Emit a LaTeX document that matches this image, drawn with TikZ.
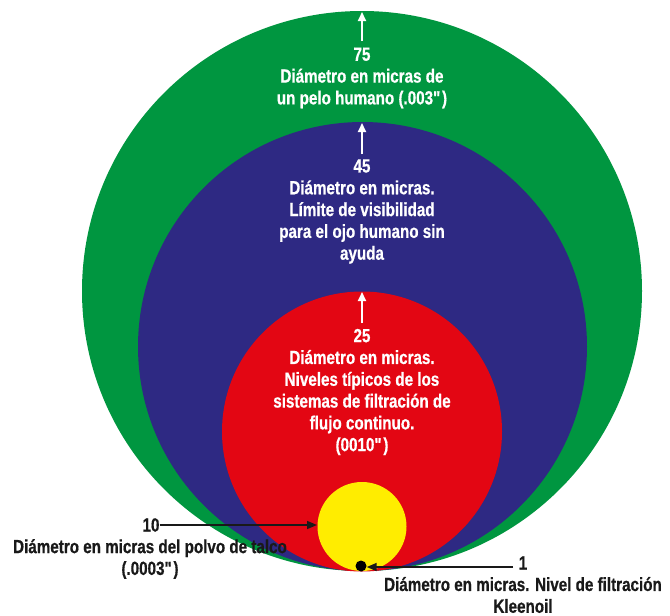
\documentclass[tikz,border=0pt]{standalone}
\usepackage{fontspec}
\setmainfont{Liberation Sans}[FakeStretch=0.8,FakeBold=0.6]
\usetikzlibrary{arrows.meta}
\definecolor{cgreen}{RGB}{0,150,64}
\definecolor{cblue}{RGB}{46,41,131}
\definecolor{cred}{RGB}{227,6,19}
\definecolor{cyellow}{RGB}{255,237,0}
\tikzset{
  lbl/.style={font=\fontsize{19}{21.8}\selectfont\bfseries, align=center, inner sep=0pt},
  wlbl/.style={lbl, text=white},
  klbl/.style={lbl, text=black!90},
  warrow/.style={draw=white, line width=2pt, -{Triangle[length=9pt,width=8pt]}},
  karrow/.style={draw=black!90, line width=1.6pt, -{Triangle[length=10pt,width=8pt]}},
}
\begin{document}
\begin{tikzpicture}[x=1pt,y=-1pt]
\useasboundingbox (0,0) rectangle (670,616);
\fill[white] (0,0) rectangle (670,616);
% circles
\fill[cgreen] (362,291) circle (280);
\fill[cblue] (362.5,346.5) circle (224.5);
\fill[cred] (362,431.5) circle (140);
\fill[cyellow] (362,526.5) circle (44.5);
% anchor coordinates
\coordinate (gtop) at (362,12);
\coordinate (gbot) at (362,41);
\coordinate (btop) at (362,123);
\coordinate (bbot) at (362,154);
\coordinate (rtop) at (362,292);
\coordinate (rbot) at (362,323);
% white arrows
\draw[warrow] (gbot) -- (gtop);
\draw[warrow] (bbot) -- (btop);
\draw[warrow] (rbot) -- (rtop);
% labels inside
\node[wlbl] (g75) at (362,78) {75\\Diámetro en micras de\\un pelo humano (.003\textquotedbl)};
\node[wlbl] (b45) at (362,211.5) {45\\Diámetro en micras.\\Límite de visibilidad\\para el ojo humano sin\\ayuda};
\node[wlbl] (r25) at (362,392) {25\\Diámetro en micras.\\Niveles típicos de los\\sistemas de filtración de\\flujo continuo.\\(0010\textquotedbl)};
% yellow circle label
\node[klbl] (ten) at (151,525) {10};
\coordinate (ytip) at (317,525);
\draw[karrow] (ten.east) -- (ytip);
\node[klbl] (tentext) at (150,559) {Diámetro en micras del polvo de talco\\(.0003\textquotedbl)};
% dot
\fill[black] (361,566) circle (5.5);
\node[inner sep=0pt, minimum size=11pt, circle] (dot) at (361,566) {};
\node[klbl] (one) at (523,563) {1};
\coordinate (lstart) at (513,567);
\draw[karrow] (lstart) -- (dot.east |- lstart);
\node[klbl] (onetext) at (523,595) {Diámetro en micras. Nivel de filtración\\Kleenoil};
\end{tikzpicture}
\end{document}
